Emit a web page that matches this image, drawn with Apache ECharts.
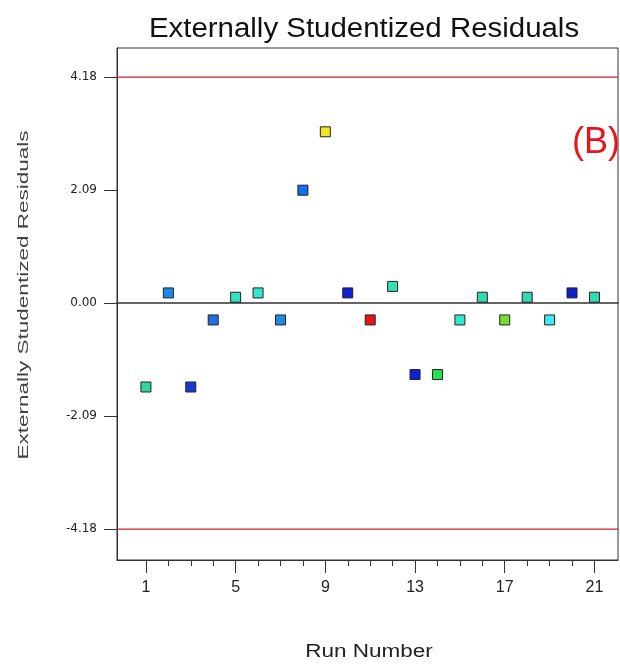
<!DOCTYPE html>
<html>
<head>
<meta charset="utf-8">
<script src="https://cdn.jsdelivr.net/npm/echarts@6/dist/echarts.min.js"></script>
<style>
html,body{margin:0;padding:0;background:#fff;}
#chart{width:620px;height:666px;}
</style>
</head>
<body>
<div id="chart"></div>
<script>
// ---- data ----
const runs = [1,2,3,4,5,6,7,8,9,10,11,12,13,14,15,16,17,18,19,20,21];
const residuals = [-1.55,0.19,-1.55,-0.31,0.11,0.19,-0.31,2.09,3.17,0.19,-0.31,0.31,-1.32,-1.32,-0.31,0.11,-0.31,0.11,-0.31,0.19,0.11];
const pointColors = ['#2ed6a0','#1a8ae8','#1a3ad8','#2070e0','#34e0c0','#34e6d6','#2288e0','#1070f0','#f0e620','#1020d8','#e01818','#34e0b0','#1020d0','#22e050','#34e6d0','#34d8b2','#72e030','#34d8b2','#44e8f0','#1020c8','#34d8b2'];
const yTickValues = [-4.18,-2.09,0,2.09,4.18];
const xLabelValues = [1,5,9,13,17,21];
const xMinorTickValues = runs;
const limitLines = [4.18,-4.18];
const titleText = 'Externally Studentized Residuals';
const yAxisTitle = 'Externally Studentized Residuals';
const xAxisTitle = 'Run Number';
const panelTag = '(B)';

const chart = echarts.init(document.getElementById('chart'));
const axisColor = '#333';
const limitColor = '#d0202a';
const xMin = -0.29, xMax = 22.05;

const limitSeries = limitLines.map(v => ({
  type: 'line',
  xAxisIndex: 0, yAxisIndex: 0,
  data: [[xMin, v], [xMax, v]],
  showSymbol: false,
  symbol: 'none',
  silent: true,
  z: 3,
  lineStyle: {color: limitColor, width: 1.2, type: 'solid'},
  itemStyle: {color: limitColor}
}));

const option = {
  animation: false,
  backgroundColor: '#fff',
  grid: {left: 117, right: 2, top: 48, bottom: 106, show: true, borderColor: axisColor, borderWidth: 1, containLabel: false},
  xAxis: [
    {
      type: 'value', min: xMin, max: xMax, position: 'bottom',
      axisLine: {show: true, onZero: false, lineStyle: {color: axisColor, width: 1}},
      axisTick: {show: true, length: 13, customValues: xLabelValues, lineStyle: {color: axisColor}},
      axisLabel: {show: true, customValues: xLabelValues, margin: 20, fontSize: 16, fontFamily: '"Liberation Sans", Arial', color: '#222'},
      splitLine: {show: false}
    },
    {
      type: 'value', min: xMin, max: xMax, position: 'bottom', offset: 0,
      axisLine: {show: false, onZero: false},
      axisTick: {show: true, length: 6, customValues: xMinorTickValues, lineStyle: {color: axisColor}},
      axisLabel: {show: false},
      splitLine: {show: false}
    },
    {
      // zero reference line drawn by an axis line sitting on y = 0
      type: 'value', min: xMin, max: xMax, position: 'bottom',
      axisLine: {show: true, onZero: true, lineStyle: {color: '#333', width: 1.5}},
      axisTick: {show: false},
      axisLabel: {show: false},
      splitLine: {show: false}
    }
  ],
  yAxis: {
    type: 'value', min: -4.75, max: 4.72,
    axisLine: {show: true, onZero: false, lineStyle: {color: axisColor, width: 1}},
    axisTick: {show: true, length: 13, customValues: yTickValues, lineStyle: {color: axisColor}},
    axisLabel: {show: true, customValues: yTickValues, margin: 20, fontSize: 12, fontFamily: '"DejaVu Sans", sans-serif', color: '#222',
      formatter: v => Number(v).toFixed(2)},
    splitLine: {show: false}
  },
  series: [
    {
      type: 'scatter',
      xAxisIndex: 0, yAxisIndex: 0,
      symbol: 'rect',
      symbolSize: 10,
      z: 5,
      itemStyle: {opacity: 1, borderColor: '#222', borderWidth: 1},
      data: runs.map((r, i) => ({value: [r, residuals[i]], itemStyle: {color: pointColors[i], borderColor: '#222', borderWidth: 1, opacity: 1}}))
    }
  ].concat(limitSeries),
  graphic: [
    {type: 'text', x: 364, y: 30, scaleX: 1.09, z: 10,
      style: {text: titleText, fontSize: 27, fontFamily: '"Liberation Sans", Arial', fill: '#111', align: 'center', verticalAlign: 'middle'}},
    {type: 'text', x: 24, y: 295, rotation: Math.PI / 2, scaleX: 1.5, z: 10,
      style: {text: yAxisTitle, fontSize: 15, fontFamily: '"Liberation Sans", Arial', fill: '#444', align: 'center', verticalAlign: 'middle'}},
    {type: 'text', x: 369, y: 652, scaleX: 1.25, z: 10,
      style: {text: xAxisTitle, fontSize: 18, fontFamily: '"Liberation Sans", Arial', fill: '#222', align: 'center', verticalAlign: 'middle'}},
    {type: 'text', x: 572, y: 143.5, z: 10,
      style: {text: panelTag, fontSize: 36, fontFamily: '"Liberation Sans", Arial', fill: '#e8141c', align: 'left', verticalAlign: 'middle'}}
  ]
};
chart.setOption(option);
</script>
</body>
</html>
